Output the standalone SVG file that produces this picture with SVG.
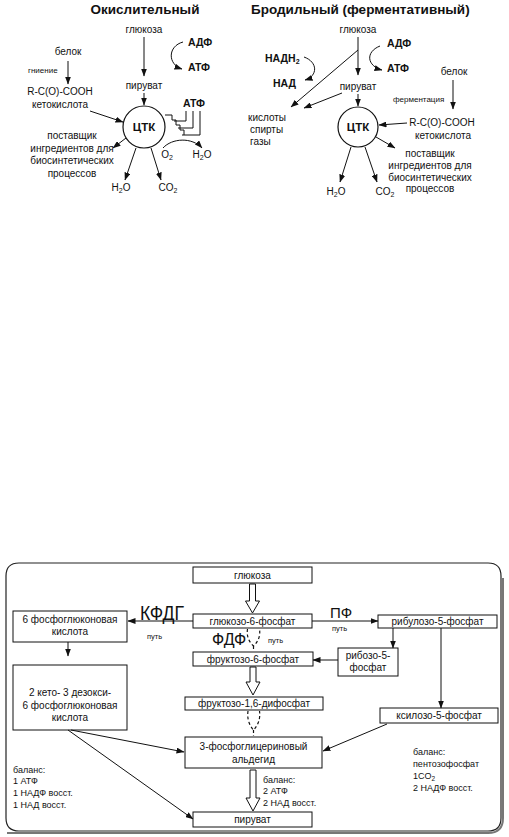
<svg xmlns="http://www.w3.org/2000/svg" width="509" height="837" viewBox="0 0 509 837">
<defs>
<marker id="ah" markerWidth="8" markerHeight="6" refX="7.5" refY="3" orient="auto" markerUnits="userSpaceOnUse">
<path d="M0,0 L8,3 L0,6 z" fill="#111"/>
</marker>
<style>
text{font-family:"Liberation Sans",Arial,sans-serif;fill:#111;}
.t{font-size:10px;}
.s{font-size:9px;}
.f{font-size:8px;}
.p{font-size:7.5px;}
.b{font-weight:bold;font-size:10.5px;}
.c{font-weight:bold;font-size:11.5px;}
.h{font-weight:bold;font-size:13.5px;}
.m{text-anchor:middle;}
.ln{stroke:#111;stroke-width:1;fill:none;}
.ar{stroke:#111;stroke-width:1;fill:none;marker-end:url(#ah);}
.box{fill:#fff;stroke:#111;stroke-width:1;}
.hol{fill:#fff;stroke:#111;stroke-width:1;stroke-linejoin:miter;}
.dsh{fill:none;stroke:#111;stroke-width:1.2;stroke-dasharray:3,2.5;}
.sub{font-size:7px;}
</style>
</defs>
<rect width="509" height="837" fill="#fff"/>

<!-- ===== Top left: oxidative ===== -->
<g id="oxidative">
<text class="h m" x="145" y="14">Окислительный</text>
<g id="ox-glucose"><text class="t m" x="144" y="33">глюкоза</text></g>
<g id="ox-pyruvate"><text class="t m" x="144" y="89">пируват</text></g>
<g id="ox-tca"><circle cx="144" cy="127" r="21" fill="#fff" stroke="#111" stroke-width="1.2"/><text class="c m" x="144" y="131">ЦТК</text></g>
<g id="ox-adp"><text class="b" x="188" y="46">АДФ</text><text class="b" x="188" y="71">АТФ</text></g>
<g id="ox-protein"><text class="t m" x="68" y="55">белок</text><text class="f" x="28" y="73">гниение</text></g>
<g id="ox-keto"><text class="t m" x="60" y="95">R-C(O)-COOH</text><text class="t m" x="60" y="108">кетокислота</text></g>
<g id="ox-supplier"><text class="t m" x="72" y="139">поставщик</text><text class="t m" x="72" y="151.5">ингредиентов для</text><text class="t m" x="72" y="164">биосинтетических</text><text class="t m" x="72" y="176.5">процессов</text></g>
<g id="ox-h2o"><text class="t m" x="121" y="191">H<tspan class="sub" dy="2">2</tspan><tspan dy="-2">O</tspan></text></g>
<g id="ox-co2"><text class="t m" x="168" y="191">CO<tspan class="sub" dy="2">2</tspan></text></g>
<g id="ox-o2"><text class="t m" x="167" y="158">O<tspan class="sub" dy="2">2</tspan></text></g>
<g id="ox-h2o2"><text class="t m" x="202" y="158">H<tspan class="sub" dy="2">2</tspan><tspan dy="-2">O</tspan></text></g>
<g id="ox-atp"><text class="b" x="183" y="107">АТФ</text></g>
</g>

<!-- ===== Top right: fermentative ===== -->
<g id="fermentative">
<text class="h" x="251" y="14">Бродильный (ферментативный)</text>
<g id="fe-glucose"><text class="t m" x="358" y="33">глюкоза</text></g>
<g id="fe-nadh"><text class="b" x="265" y="62">НАДН<tspan class="sub" dy="2">2</tspan></text><text class="b" x="273" y="87">НАД</text></g>
<g id="fe-adp"><text class="b" x="387" y="47">АДФ</text><text class="b" x="387" y="72">АТФ</text></g>
<g id="fe-pyruvate"><text class="t m" x="358" y="90">пируват</text></g>
<g id="fe-products"><text class="t" x="248" y="121">кислоты</text><text class="t" x="250" y="133">спирты</text><text class="t" x="250" y="145">газы</text></g>
<g id="fe-tca"><circle cx="358" cy="127" r="20" fill="#fff" stroke="#111" stroke-width="1.2"/><text class="c m" x="358" y="131">ЦТК</text></g>
<g id="fe-protein"><text class="t m" x="454" y="75">белок</text><text class="f" x="393" y="102">ферментация</text></g>
<g id="fe-keto"><text class="t m" x="442" y="126">R-C(O)-COOH</text><text class="t m" x="443" y="139">кетокислота</text></g>
<g id="fe-supplier"><text class="t m" x="430" y="157">поставщик</text><text class="t m" x="430" y="169">ингредиентов для</text><text class="t m" x="430" y="180.5">биосинтетических</text><text class="t m" x="430" y="192">процессов</text></g>
<g id="fe-h2o"><text class="t m" x="336" y="195">H<tspan class="sub" dy="2">2</tspan><tspan dy="-2">O</tspan></text></g>
<g id="fe-co2"><text class="t m" x="385" y="195">CO<tspan class="sub" dy="2">2</tspan></text></g>
</g>

<!-- ===== Bottom pathways ===== -->
<g id="frame">
<path d="M19,563 H488 Q501,563 501,576 V818 Q501,831 488,831 H19 Q6,831 6,818 V576 Q6,563 19,563 Z" fill="none" stroke="#222" stroke-width="1.2"/>
<path d="M7,833 H488 Q503,833 503,818 V578" fill="none" stroke="#777" stroke-width="2"/>
</g>
<g id="n-glucose"><rect class="box" x="193" y="567" width="119" height="16"/><text class="t m" x="252.5" y="579">глюкоза</text></g>
<g id="n-g6p"><rect class="box" x="193" y="614" width="119" height="14"/><text class="t m" x="252.5" y="624.5">глюкозо-6-фосфат</text></g>
<g id="n-f6p"><rect class="box" x="193" y="652" width="120" height="14"/><text class="t m" x="253" y="662.5">фруктозо-6-фосфат</text></g>
<g id="n-f16dp"><rect class="box" x="185" y="697" width="138" height="13"/><text class="t m" x="254" y="707">фруктозо-1,6-дифосфат</text></g>
<g id="n-gap"><rect class="box" x="185" y="737" width="137" height="31" stroke-width="2.5"/><text class="t m" x="253.5" y="750">3-фосфоглицериновый</text><text class="t m" x="253.5" y="763">альдегид</text></g>
<g id="n-pyruvate"><rect class="box" x="193" y="812" width="119" height="15"/><text class="t m" x="252.5" y="823">пируват</text></g>
<g id="n-6pg"><rect class="box" x="13" y="611" width="114" height="31"/><text class="t m" x="70" y="623">6 фосфоглюконовая</text><text class="t m" x="70" y="635">кислота</text></g>
<g id="n-kdpg"><rect class="box" x="13" y="665" width="114" height="65"/><text class="t m" x="70" y="696">2 кето- 3 дезокси-</text><text class="t m" x="70" y="709">6 фосфоглюконовая</text><text class="t m" x="70" y="721">кислота</text></g>
<g id="n-ribulose"><rect class="box" x="378" y="615" width="119" height="13"/><text class="t m" x="437.5" y="625">рибулозо-5-фосфат</text></g>
<g id="n-ribose"><rect class="box" x="338" y="648" width="60" height="28"/><text class="t m" x="368" y="659">рибозо-5-</text><text class="t m" x="368" y="671">фосфат</text></g>
<g id="n-xylulose"><rect class="box" x="380" y="708" width="118" height="15"/><text class="t m" x="439" y="719">ксилозо-5-фосфат</text></g>

<g id="labels">
<text x="140" y="620" font-size="20" textLength="44" lengthAdjust="spacingAndGlyphs">КФДГ</text>
<text class="p" x="147" y="639">путь</text>
<text x="212" y="645" font-size="16">ФДФ</text>
<text class="p" x="268" y="643">путь</text>
<text x="330" y="618" font-size="15">ПФ</text>
<text class="p" x="332" y="631">путь</text>
<text class="s" x="13" y="773">баланс:</text>
<text class="s" x="13" y="784">1 АТФ</text>
<text class="s" x="13" y="795.5">1 НАДФ восст.</text>
<text class="s" x="13" y="807.5">1 НАД восст.</text>
<text class="s" x="263" y="783">баланс:</text>
<text class="s" x="263" y="794">2 АТФ</text>
<text class="s" x="263" y="805.5">2 НАД восст.</text>
<text class="s" x="413" y="755">баланс:</text>
<text class="s" x="413" y="767">пентозофосфат</text>
<text class="s" x="413" y="779">1CO<tspan font-size="6.5" dy="2">2</tspan></text>
<text class="s" x="413" y="791">2 НАДФ восст.</text>
</g>

<!-- ===== Connectors ===== -->
<g id="connectors">
<!-- oxidative -->
<line class="ar" x1="144" y1="37" x2="144" y2="76"/>
<line class="ar" x1="144" y1="93" x2="144" y2="105"/>
<path class="ar" d="M183,42 C168,46 167,64 182,69"/>
<line class="ar" x1="68" y1="61" x2="68" y2="84"/>
<line class="ar" x1="90" y1="111" x2="123" y2="122"/>
<line class="ar" x1="126" y1="138" x2="113" y2="148"/>
<line class="ar" x1="136" y1="148" x2="125" y2="180"/>
<line class="ar" x1="151" y1="148" x2="161" y2="180"/>
<path class="ar" d="M163,148 C172,138 192,137 202,148"/>
<path class="ln" stroke-width="1.3" d="M165,115 H172 V120 H176 V125 H180 V130 H184 V135"/>
<path class="ln" stroke-width="1.2" d="M186,111 V121 H174"/>
<path class="ln" stroke-width="1.2" d="M193,111 V128 H178"/>
<path class="ln" stroke-width="1.2" d="M200,111 V135 H182"/>
<!-- fermentative -->
<line class="ar" x1="358" y1="37" x2="358" y2="75"/>
<line class="ar" x1="358" y1="50" x2="291" y2="107"/>
<path class="ar" d="M304,57 C318,62 318,76 305,80"/>
<path class="ar" d="M380,46 C365,52 367,66 382,70"/>
<line class="ar" x1="342" y1="93" x2="304" y2="108"/>
<line class="ar" x1="358" y1="94" x2="358" y2="106"/>
<line class="ar" x1="453" y1="80" x2="453" y2="109"/>
<line class="ar" x1="407" y1="123" x2="379" y2="125"/>
<line class="ar" x1="376" y1="137" x2="395" y2="148"/>
<line class="ar" x1="351" y1="147" x2="340" y2="182"/>
<line class="ar" x1="365" y1="147" x2="377" y2="182"/>
<!-- bottom -->
<polygon class="hol" points="249.5,584 255.5,584 255.5,601 259.5,601 252.5,613 245.5,601 249.5,601"/>
<polygon class="hol" points="250,667 256,667 256,682 260,682 253,695 246,682 250,682"/>
<polygon class="hol" points="250,770 256,770 256,798 260,798 253,811 246,798 250,798"/>
<path class="dsh" d="M247.5,629 Q246,639 253.5,646 Q261,639 259.5,629"/>
<path class="dsh" d="M253.5,646 V651"/>
<path class="dsh" d="M248,711 Q246.5,722 253.5,730 Q261,722 259.5,711"/>
<path class="dsh" d="M253.5,730 V736"/>
<line class="ar" x1="193" y1="621" x2="128" y2="621"/>
<line class="ar" x1="68" y1="642" x2="68" y2="656"/>
<line class="ar" x1="71" y1="730" x2="184" y2="752"/>
<line class="ar" x1="68" y1="730" x2="193" y2="819"/>
<line class="ar" x1="312" y1="621" x2="378" y2="621"/>
<line class="ar" x1="393" y1="628" x2="393" y2="648"/>
<line class="ar" x1="338" y1="660" x2="313" y2="660"/>
<line class="ar" x1="441" y1="628" x2="441" y2="708"/>
<line class="ar" x1="387" y1="724" x2="323" y2="751"/>
</g>
</svg>
